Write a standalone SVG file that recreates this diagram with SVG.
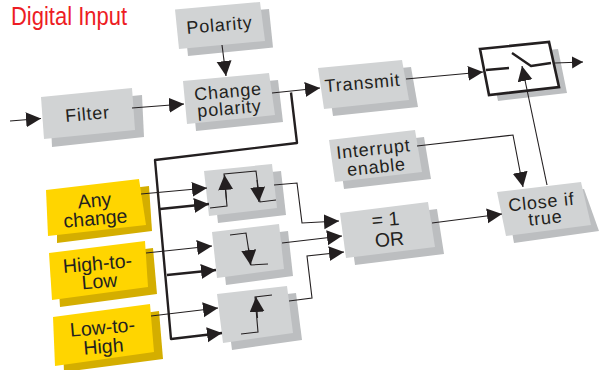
<svg xmlns="http://www.w3.org/2000/svg" width="599" height="370" viewBox="0 0 599 370">
<style>
.b{fill:#d1d3d4}.s{fill:#bcbec0}.y{fill:#ffd500}.ys{fill:#d4ae00}
text{font-family:"Liberation Sans",Arial,sans-serif;fill:#231f20;text-anchor:middle}
.g{font-size:18px;letter-spacing:0.8px}.l{font-size:19.5px}
.t{fill:none;stroke:#231f20;stroke-width:1.1;marker-end:url(#a)}
.n{fill:none;stroke:#231f20;stroke-width:1.1}
.k{fill:none;stroke:#231f20;stroke-width:2.4;stroke-linejoin:round}
.ka{fill:none;stroke:#231f20;stroke-width:2.4;stroke-linejoin:round;marker-end:url(#a)}
</style>
<defs>
<marker id="a" markerUnits="userSpaceOnUse" markerWidth="16" markerHeight="16" refX="15" refY="7.500" orient="auto"><path d="M0 0L15 7.500L0 15Z" fill="#231f20"/></marker>
<marker id="m" markerUnits="userSpaceOnUse" markerWidth="12" markerHeight="14" refX="11" refY="6" orient="auto"><path d="M0 0L11 6L0 12Z" fill="#231f20"/></marker>
</defs>
<text id="title" x="69" y="25" font-size="26" textLength="116" lengthAdjust="spacingAndGlyphs" style="fill:#ed1c24">Digital Input</text>
<g id="polarity"><polygon class="s" points="184,16.5 269,9 273,47.5 188,56"/><polygon class="b" points="175,9.5 260,2 265,41 179,49"/><text class="g" x="220" y="31" transform="rotate(-5 220 31)">Polarity</text></g>
<g id="filter"><polygon class="s" points="50,104 142,95 144,137 52,147"/><polygon class="b" points="41,97 132,88 135,130 44,139"/><text class="g" x="88" y="120" transform="rotate(-5 88 120)">Filter</text></g>
<g id="change-polarity"><polygon class="s" points="192,88 278,80 283,122 196,131"/><polygon class="b" points="183,81 269,73 275,115 187,124"/><text class="g" x="228.500" y="97.500" transform="rotate(-5 229 98)">Change</text><text class="g" x="230" y="114.500" transform="rotate(-5 230 115)">polarity</text></g>
<g id="transmit"><polygon class="s" points="327,75 411,67 418,107 333,116"/><polygon class="b" points="318,68 402,60 409,100 324,109"/><text class="g" x="363" y="89" transform="rotate(-5 363 89)">Transmit</text></g>
<g id="interrupt-enable"><polygon class="s" points="338,147 424,137 431,179 344,189"/><polygon class="b" points="329,140 415,130 422,172 335,182"/><text class="g" x="374" y="155" transform="rotate(-6 374 155)">Interrupt</text><text class="g" x="377" y="173" transform="rotate(-6 377 173)">enable</text></g>
<g id="close-if-true"><polygon class="s" points="506,199 584,189 599,231 514,243"/><polygon class="b" points="497,192 581,182 591,225 506,236"/><text class="g" x="542" y="208" transform="rotate(-6 542 208)">Close if</text><text class="g" x="546" y="224" transform="rotate(-6 546 224)">true</text></g>
<g id="or"><polygon class="s" points="349,220 437,209 444,254 355,265"/><polygon class="b" points="340,213 428,202 435,247 346,258"/><text class="l" x="386" y="226" transform="rotate(-5 386 226)">= 1</text><text class="l" x="390" y="246" transform="rotate(-5 390 246)">OR</text></g>
<g id="any-change"><polygon class="ys" points="57,197 149,186 152,231 57,243"/><polygon class="y" points="46,190 139,179 146,225 48,236"/><text class="l" x="95" y="207" transform="rotate(-5 95 207)">Any</text><text class="l" x="96" y="225" transform="rotate(-5 96 225)">change</text></g>
<g id="high-to-low"><polygon class="ys" points="57,260 153,248 157,294 60,307"/><polygon class="y" points="49,253 145,241 148,287 52,300"/><text class="l" x="98" y="270" transform="rotate(-5 98 270)">High-to-</text><text class="l" x="100" y="288" transform="rotate(-5 100 288)">Low</text></g>
<g id="low-to-high"><polygon class="ys" points="62,324 159,311 163,359 64,372"/><polygon class="y" points="53,317 150,304 154,352 55,366"/><text class="l" x="103" y="334" transform="rotate(-5 103 334)">Low-to-</text><text class="l" x="104" y="353" transform="rotate(-5 104 353)">High</text></g>
<g id="edge-any"><polygon class="s" points="213,178 281,171 286,215 218,223"/><polygon class="b" points="204,171 272,164 277,208 209,216"/></g>
<g id="edge-falling"><polygon class="s" points="221,239 288,231 293,276 226,285"/><polygon class="b" points="212,232 279,224 284,269 217,278"/></g>
<g id="edge-rising"><polygon class="s" points="226,301 296,293 302,340 232,350"/><polygon class="b" points="217,294 287,286 293,333 223,343"/></g>
<g id="switch"><polygon class="s" points="489,56 558,49 567,93 498,101"/><polygon points="480,49 549,42 559,87 489,95" fill="#fff" stroke="#231f20" stroke-width="2.6"/><path class="k" d="M486 70L509 68M512 53L531 66L551 63" stroke-width="2"/></g>
<g id="connectors">
<path class="t" d="M10 121L41 118.500"/>
<path class="t" d="M132 108L184 104"/>
<path class="t" d="M222 45L226 76"/>
<path class="t" d="M272 93L320 88"/>
<path class="ka" d="M291 92.500L297 143L155 160L171 339L222 333"/>
<path class="ka" d="M160 209L209 204"/>
<path class="ka" d="M167 275L216 270"/>
<path class="t" d="M141 194L207 188"/>
<path class="t" d="M146 253L212 246"/>
<path class="t" d="M151 316L218 308"/>
<path class="n" d="M210 208L227 206L224 174L256 171L260 202L276 200"/>
<path class="t" d="M226.500 200L224.500 175"/>
<path class="t" d="M257 180L259 202"/>
<path class="n" d="M230 235L246 233L251 265L268 264"/>
<path class="t" d="M248.500 248L250.500 265"/>
<path class="n" d="M241 334L258 332L255 297L272 295"/>
<path class="t" d="M257.500 318L256 297"/>
<path class="t" d="M274 185L297 183L302 223L339 221"/>
<path class="t" d="M282 243L342 236"/>
<path class="t" d="M289 301L312 298L307 256L344 252"/>
<path class="t" d="M432 223L502 214"/>
<path class="t" d="M547 185L522 66"/>
<path class="t" d="M417 146L513 135L523 187"/>
<path class="t" d="M406 79L483 72"/>
<path class="n" d="M555 63L583 62" style="marker-end:url(#m)"/>
</g>
</svg>
